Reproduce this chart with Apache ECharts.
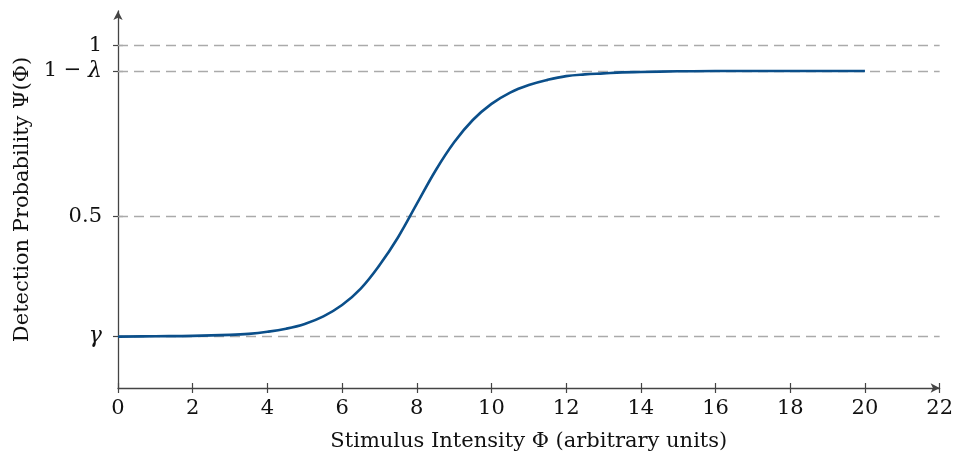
<!DOCTYPE html>
<html><head><meta charset="utf-8">
<script src="https://cdn.jsdelivr.net/npm/echarts@6/dist/echarts.min.js"></script>
<style>html,body{margin:0;padding:0;background:#fff}#c{width:956px;height:462px}</style>
</head><body><div id="c"></div>
<script>
// Data
const stimulus = [0, 1, 2, 3, 3.5, 4, 4.5, 5, 5.5, 6, 6.5, 7, 7.5, 8, 8.5, 9, 9.5, 10, 10.5, 11, 11.5, 12, 12.5, 13, 13.5, 14, 15, 16, 17, 18, 19, 20];
const detection = [0.150, 0.151, 0.152, 0.155, 0.158, 0.164, 0.173, 0.187, 0.209, 0.242, 0.290, 0.358, 0.440, 0.537, 0.634, 0.717, 0.782, 0.829, 0.862, 0.884, 0.899, 0.910, 0.915, 0.918, 0.921, 0.922, 0.924, 0.925, 0.925, 0.925, 0.925, 0.925];
const xTicks = [0, 2, 4, 6, 8, 10, 12, 14, 16, 18, 20, 22];
const yTickValues = [0.15, 0.5, 0.925, 1];
const yTickLabels = ['{i|γ}', '0.5', '1 − {i|λ}', '1'];

const FONT = 'DejaVu Serif';
const FS = 21;
const axisColor = '#444';
const chart = echarts.init(document.getElementById('c'), null, {renderer: 'canvas'});
const seriesData = stimulus.map((x, i) => [x, detection[i]]);
const refLines = yTickValues.map(v => [{coord: [0, v]}, {coord: [22, v]}]);

const baseX = {
  type: 'value', min: 0, max: 22, interval: 2, position: 'bottom',
  splitLine: {show: false}
};
chart.setOption({
  animation: false,
  grid: {left: 118, right: 11, top: 11, bottom: 74, containLabel: false},
  xAxis: [
    Object.assign({}, baseX, {
      name: 'Stimulus Intensity Φ (arbitrary units)',
      nameLocation: 'middle', nameGap: 43,
      nameTextStyle: {fontFamily: FONT, fontSize: FS, color: '#111'},
      axisLine: {show: true, lineStyle: {color: axisColor, width: 1.3}, symbol: ['none', 'arrow'], symbolSize: [7, 9]},
      axisTick: {show: true, inside: false, length: 5, lineStyle: {color: axisColor, width: 1.2}},
      axisLabel: {show: true, margin: 10, fontFamily: FONT, fontSize: FS, color: '#111',
        customValues: xTicks}
    }),
    Object.assign({}, baseX, {
      axisLine: {show: false},
      axisTick: {show: true, inside: true, length: 5, lineStyle: {color: axisColor, width: 1.2}},
      axisLabel: {show: false}
    })
  ],
  yAxis: [
    {
      type: 'value', min: 0, max: 1.1, position: 'left',
      name: 'Detection Probability Ψ(Φ)',
      nameLocation: 'middle', nameGap: 82, nameRotate: 90,
      nameTextStyle: {fontFamily: FONT, fontSize: FS, color: '#111'},
      axisLine: {show: true, lineStyle: {color: axisColor, width: 1.3}, symbol: ['none', 'arrow'], symbolSize: [7, 9]},
      axisTick: {show: true, inside: false, length: 5, customValues: yTickValues, lineStyle: {color: axisColor, width: 1.2}},
      axisLabel: {show: true, margin: 16, fontFamily: FONT, fontSize: FS, color: '#111',
        customValues: yTickValues,
        formatter: function (v) {
          const i = yTickValues.findIndex(t => Math.abs(t - v) < 1e-6);
          return i >= 0 ? yTickLabels[i] : '';
        },
        rich: {i: {fontFamily: FONT, fontStyle: 'italic', fontSize: FS + 1, color: '#111'}}
      },
      splitLine: {show: false}
    },
    {
      type: 'value', min: 0, max: 1.1, position: 'left',
      axisLine: {show: false},
      axisTick: {show: true, inside: true, length: 5, customValues: yTickValues, lineStyle: {color: axisColor, width: 1.2}},
      axisLabel: {show: false},
      splitLine: {show: false}
    }
  ],
  series: [{
    type: 'line', xAxisIndex: 0, yAxisIndex: 0,
    data: seriesData, smooth: 0.4, showSymbol: false,
    lineStyle: {color: '#0b4f8a', width: 2.6},
    z: 3,
    markLine: {
      silent: true, symbol: 'none', label: {show: false},
      lineStyle: {color: '#aaaaaa', type: [10, 6], width: 1.3},
      data: refLines, z: 1
    }
  }]
});
</script></body></html>
